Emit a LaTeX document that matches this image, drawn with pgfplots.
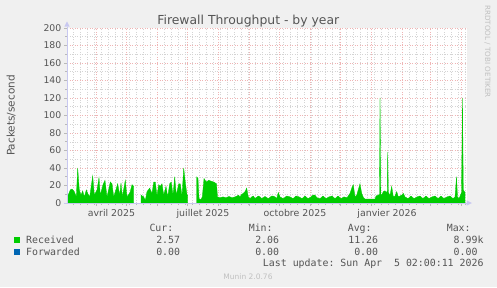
\documentclass[border=0pt]{standalone}
\usepackage{pgfplots}
\pgfplotsset{compat=1.18}
\usepackage{fontspec}
\setmainfont{DejaVu Sans}
\setmonofont{DejaVu Sans Mono}
\definecolor{bg}{HTML}{F0F0F0}
\definecolor{rxgreen}{HTML}{00CC00}
\definecolor{fwblue}{HTML}{0066B3}
\definecolor{mgrid}{HTML}{EFB4B4}
\definecolor{mingrid}{HTML}{D4D4D4}
\definecolor{axiscol}{HTML}{C8C8F0}
\definecolor{txt}{HTML}{555555}
\definecolor{faint}{HTML}{C0C0C0}
\newcommand{\fs}[1]{\fontsize{#1bp}{#1bp}\selectfont}

\pgfplotstableread{
x y
0 7
1.5 10
3.3 15
5 16
7.3 13
9.3 7
10.7 40
12.3 15
14 9
15.7 14
17.3 7
19.3 15
20.7 11
22.7 7
25.7 31
27.3 9
30 15
32 29
33.3 9
36 21
38 26
40 7
43.3 24
45 22
46.7 7
50.7 22
52.7 9
54 23
55.3 7
58.3 26
60 7
63 12
65 21
66.7 19
}\segA

\pgfplotstableread{
x y
74 9
76.7 7
78.3 3
80 13
82.7 17
85 11
86.7 24
88.3 24
90 8
91.7 21
93.3 19
95 22
96.7 9
99 19
100.7 7
102.7 22
104.3 24
106 9
107.7 30
109.3 9
111.7 22
113.3 22
115 8
116.7 40
118.3 24
120 9
120.7 9
}\segB

\pgfplotstableread{
x y
129.7 30
131 28
132 5
134 4
135.3 7
137 28
139.3 24
141.7 26
144 25
146.7 24
149.5 22
150.5 7
153 6
156 7
159 6
162 7.5
165 6
168 7
170 8
171.5 9
173 7
174.7 10
176.3 11
178 13
179.7 17
181.3 7
183 5
184.7 7
186.5 8
188 5
191.3 8
193 7
194.7 5
198 7.5
201.3 5
204.7 8
206 8
208 7
209.7 5
211.3 12
213 7
216.3 5
219.7 8
223 7
226 5
229 8
232 7
235 5
238 8
241 5
244 7
246 9
248 9
250 6
253 5
256 8
259 5
262 7
265 8
268 5
271 8
274 5
277 7
280 6
283 11
284.7 17
286.3 21
288 7
289.7 9
293 22
294.7 11
296.5 6
298 4.5
308 4.5
309 8
311.3 9
312.5 10
313 120
313.8 10
314.7 9
316.3 13
318 14
319.7 12
320.3 14
320.7 58
321.3 12
323 9
324.7 19
326.3 7
328 8
329.7 13
331.3 7
333 8
334.7 9
336.3 11
338 7
341 5
344 8
347 5
350 7
353 8
356 5
359 8
362 5
365 7
368 8
371 5
374 8
377 5
380 7
383 8
386 5
388 7
389.5 30
390.5 7
392 5
393.5 9
394.5 12
395.5 120
396.3 15
398 12
}\segC

\begin{document}
\begin{tikzpicture}[x=1bp,y=1bp]
\fill[bg] (0,0) rectangle (497,287);
\path[use as bounding box] (0,0) rectangle (497,287);
\begin{axis}[
  at={(67bp,84bp)}, anchor=south west,
  scale only axis, width=400bp, height=175bp,
  xmin=0, xmax=400, ymin=0, ymax=200,
  axis background/.style={fill=white},
  axis line style={draw=none},
  tick pos=left, tick align=outside,
  xtick={29.5,59.5,90.5,120.5,151.5,182.5,212.5,243.5,273.5,304.5,335.5,363.5,394.5},
  xticklabels={},
  minor xtick={6,13,...,398},
  ytick={0,20,...,200},
  minor ytick={10,30,...,190},
  grid=both,
  major grid style={draw=mgrid, dash pattern=on 1bp off 1.5bp, line width=0.5bp},
  minor grid style={draw=mingrid, dash pattern=on 1bp off 1.5bp, line width=0.5bp},
  major tick length=3bp, minor tick length=2bp,
  tick style={draw=gray!55, line width=0.6bp},
  /pgf/number format/assume math mode=true,
  yticklabel style={font=\fs{9.3}, text=txt, anchor=east, inner sep=0pt, xshift=-2.5bp},
  extra x ticks={44.5,136,228,320},
  extra x tick labels={avril 2025,juillet 2025,octobre 2025,janvier 2026},
  extra x tick style={grid=none, major tick length=0bp,
    tick label style={font=\fs{9.4}, text=txt, anchor=base, inner sep=0pt, yshift=-13.3bp}},
]
\addplot[fill=rxgreen, draw=rxgreen, line width=0.3bp] table {\segA} \closedcycle;
\addplot[fill=rxgreen, draw=rxgreen, line width=0.3bp] table {\segB} \closedcycle;
\addplot[fill=rxgreen, draw=rxgreen, line width=0.3bp] table {\segC} \closedcycle;
\end{axis}
% axis lines with arrows
\draw[axiscol, line width=0.8bp] (67,84) -- (67,260.5);
\fill[axiscol] (64.3,260.3) -- (69.7,260.3) -- (67,265.5) -- cycle;
\draw[axiscol, line width=0.8bp] (64,84) -- (467,84);
\fill[axiscol] (466.5,81.3) -- (466.5,86.7) -- (472,84) -- cycle;
% title and labels
\node[anchor=base, text=txt, font=\fs{12.4}, inner sep=0pt] at (248.3,263) {Firewall Throughput - by year};
\node[anchor=base, rotate=90, text=txt, font=\fs{10.5}, inner sep=0pt] at (14.5,171.5) {Packets/second};
\node[anchor=base west, rotate=-90, text=faint, font=\fs{7.2}, inner sep=0pt] at (485,282) {RRDTOOL / TOBI OETIKER};
% legend
\begin{scope}[every node/.style={inner sep=0pt, text=txt, font=\ttfamily\fs{9.9}}]
\node[anchor=base west] at (149.3,55.3) {Cur:};
\node[anchor=base west] at (248.6,55.3) {Min:};
\node[anchor=base west] at (347.6,55.3) {Avg:};
\node[anchor=base west] at (446.6,55.3) {Max:};
\fill[rxgreen] (14,44.3) rectangle (20,50.3);
\fill[fwblue] (14,32) rectangle (20,38);
\node[anchor=base west] at (26,43.7) {Received};
\node[anchor=base east] at (180.3,43.7) {2.57};
\node[anchor=base east] at (279.3,43.7) {2.06};
\node[anchor=base east] at (378.3,43.7) {11.26};
\node[anchor=base east] at (483.7,43.7) {8.99k};
\node[anchor=base west] at (26,32) {Forwarded};
\node[anchor=base east] at (180.3,32) {0.00};
\node[anchor=base east] at (279.3,32) {0.00};
\node[anchor=base east] at (378.3,32) {0.00};
\node[anchor=base east] at (477.7,32) {0.00};
\node[anchor=base east] at (483.7,20.3) {Last update: Sun Apr\ \ 5 02:00:11 2026};
\end{scope}
\node[anchor=base, text=faint, font=\fs{7.5}, inner sep=0pt] at (248,8) {Munin 2.0.76};
\end{tikzpicture}
\end{document}
